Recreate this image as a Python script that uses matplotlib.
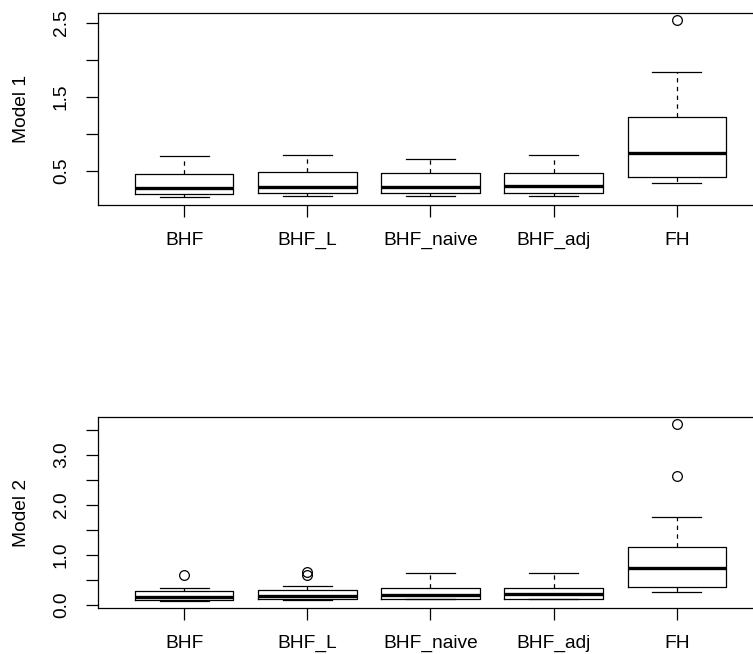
import matplotlib.pyplot as plt

plt.rcParams['font.family'] = ['Liberation Sans', 'DejaVu Sans']

methods = ['BHF', 'BHF_L', 'BHF_naive', 'BHF_adj', 'FH']

# Model 1: lower whisker, Q1, median, Q3, upper whisker, outliers
m1_lo = [0.145, 0.165, 0.165, 0.165, 0.34]
m1_q1 = [0.185, 0.20, 0.20, 0.20, 0.42]
m1_med = [0.275, 0.29, 0.29, 0.30, 0.74]
m1_q3 = [0.46, 0.48, 0.473, 0.477, 1.234]
m1_hi = [0.70, 0.72, 0.666, 0.71, 1.84]
m1_out = [[], [], [], [], [2.536]]

# Model 2
m2_lo = [0.08, 0.10, 0.113, 0.113, 0.26]
m2_q1 = [0.10, 0.113, 0.126, 0.126, 0.352]
m2_med = [0.166, 0.185, 0.206, 0.212, 0.737]
m2_q3 = [0.285, 0.305, 0.332, 0.338, 1.162]
m2_hi = [0.345, 0.385, 0.63, 0.63, 1.747]
m2_out = [[0.60], [0.60, 0.657], [], [], [2.57, 3.605]]


def make_stats(lo, q1, med, q3, hi, out):
    stats = []
    for i in range(len(methods)):
        stats.append({'whislo': lo[i], 'q1': q1[i], 'med': med[i],
                      'q3': q3[i], 'whishi': hi[i], 'fliers': out[i]})
    return stats


def draw_panel(ax, stats, ylabel, yticks, ylabels, ylim):
    ax.bxp(stats, positions=range(1, 6), widths=0.8, capwidths=0.4,
           boxprops=dict(color='black', linewidth=0.9),
           medianprops=dict(color='black', linewidth=2.4, solid_capstyle='butt'),
           whiskerprops=dict(color='black', linewidth=0.9, linestyle=(0, (3.5, 3.5))),
           capprops=dict(color='black', linewidth=0.9),
           flierprops=dict(marker='o', markerfacecolor='none', markeredgecolor='black',
                           markersize=7, markeredgewidth=0.9))
    ax.set_xlim(0.3, 5.7)
    ax.set_ylim(*ylim)
    ax.set_xticks(range(1, 6))
    ax.set_xticklabels(methods, fontsize=13.8)
    ax.set_yticks(yticks)
    ax.set_yticklabels(ylabels, fontsize=13.8, rotation=90, va='center')
    ax.tick_params(axis='both', length=8.3, width=0.9, direction='out')
    ax.tick_params(axis='x', pad=11)
    ax.tick_params(axis='y', pad=12)
    for sp in ax.spines.values():
        sp.set_linewidth(0.9)
    ax.set_ylabel(ylabel, fontsize=13.8, labelpad=16.5)


fig = plt.figure(figsize=(7.53, 6.54), dpi=100)
ax1 = fig.add_axes([98 / 753, 1 - 205 / 654, 665 / 753, 192 / 654])
ax2 = fig.add_axes([98 / 753, 1 - 608 / 654, 665 / 753, 191 / 654])

draw_panel(ax1, make_stats(m1_lo, m1_q1, m1_med, m1_q3, m1_hi, m1_out), 'Model 1',
           [0.5, 1.0, 1.5, 2.0, 2.5], ['0.5', '', '1.5', '', '2.5'], (0.04, 2.635))
draw_panel(ax2, make_stats(m2_lo, m2_q1, m2_med, m2_q3, m2_hi, m2_out), 'Model 2',
           [0.0, 0.5, 1.0, 1.5, 2.0, 2.5, 3.0, 3.5],
           ['0.0', '', '1.0', '', '2.0', '', '3.0', ''], (-0.06, 3.75))

fig.savefig('out.png', dpi=100)
